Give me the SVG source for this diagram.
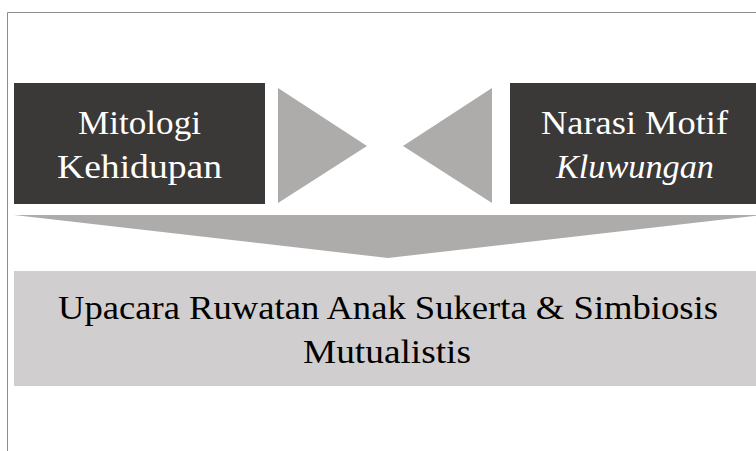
<svg xmlns="http://www.w3.org/2000/svg" width="756" height="451" viewBox="0 0 756 451">
<style>
.dark{fill:#3b3838}
.tri{fill:#aeabab}
.light{fill:#d0cece}
.t{font-family:"Liberation Serif","Times New Roman",serif;font-size:33px;text-anchor:middle}
.w{fill:#ffffff}
.k{fill:#000000}
</style>
<rect x="0" y="0" width="756" height="451" fill="#ffffff"/>
<g id="frame" fill="none" stroke="#8c8c8c" stroke-width="1">
<path d="M756 12.5 H7.5 V451"/>
</g>
<g id="node-mitologi">
<rect class="dark" x="14" y="83" width="251" height="121"/>
<text class="t w" x="139.5" y="134" textLength="123" lengthAdjust="spacingAndGlyphs">Mitologi</text>
<text class="t w" x="139.5" y="178" textLength="165" lengthAdjust="spacingAndGlyphs">Kehidupan</text>
</g>
<g id="node-narasi">
<rect class="dark" x="510" y="83" width="246" height="121"/>
<text class="t w" x="634.5" y="134" textLength="187" lengthAdjust="spacingAndGlyphs">Narasi Motif</text>
<text class="t w" x="635" y="178" font-style="italic" textLength="158" lengthAdjust="spacingAndGlyphs">Kluwungan</text>
</g>
<g id="connectors">
<polygon class="tri" points="278,88 367,146 278,203"/>
<polygon class="tri" points="492,88 403,146 492,203"/>
<polygon class="tri" points="14,215 762,215 388,258"/>
</g>
<g id="node-upacara">
<rect class="light" x="14" y="271" width="742" height="115"/>
<text class="t k" x="388" y="319" textLength="660" lengthAdjust="spacingAndGlyphs">Upacara Ruwatan Anak Sukerta &amp; Simbiosis</text>
<text class="t k" x="387" y="363" textLength="168" lengthAdjust="spacingAndGlyphs">Mutualistis</text>
</g>
</svg>
